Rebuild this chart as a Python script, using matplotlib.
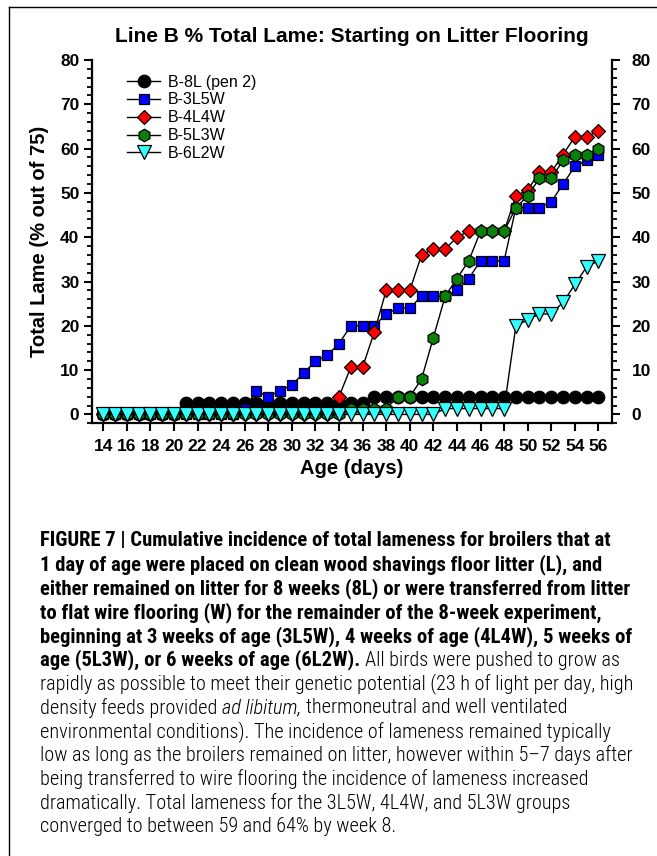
"""Line B total lameness chart with figure caption."""
import matplotlib

matplotlib.use("Agg")
import matplotlib.pyplot as plt
from matplotlib import font_manager
from matplotlib.lines import Line2D
from matplotlib.ticker import MultipleLocator

days = [14, 15, 16, 17, 18, 19, 20, 21, 22, 23, 24, 25, 26, 27, 28, 29, 30, 31,
        32, 33, 34, 35, 36, 37, 38, 39, 40, 41, 42, 43, 44, 45, 46, 47, 48, 49,
        50, 51, 52, 53, 54, 55, 56]

b_8l = [0, 0, 0, 0, 0, 0, 0, 2.67, 2.67, 2.67, 2.67, 2.67, 2.67, 2.67, 2.67,
        2.67, 2.67, 2.67, 2.67, 2.67, 2.67, 2.67, 2.67, 4.0, 4.0, 4.0, 4.0,
        4.0, 4.0, 4.0, 4.0, 4.0, 4.0, 4.0, 4.0, 4.0, 4.0, 4.0, 4.0, 4.0, 4.0,
        4.0, 4.0]
b_3l5w = [0, 0, 0, 0, 0, 0, 0, 0, 0, 0, 0, 0, 1.33, 5.33, 4.0, 5.33, 6.67,
          9.33, 12.0, 13.33, 16.0, 20.0, 20.0, 20.0, 22.67, 24.0, 24.0, 26.67,
          26.67, 26.67, 28.0, 30.67, 34.67, 34.67, 34.67, 46.67, 46.67, 46.67,
          48.0, 52.0, 56.0, 57.33, 58.67]
b_4l4w = [0, 0, 0, 0, 0, 0, 0, 0, 0, 0, 0, 0, 0, 0, 0, 0, 0, 0, 0, 0, 4.0,
          10.67, 10.67, 18.67, 28.0, 28.0, 28.0, 36.0, 37.33, 37.33, 40.0,
          41.33, 41.33, 41.33, 41.33, 49.33, 50.67, 54.67, 54.67, 58.67, 62.67,
          62.67, 64.0]
b_5l3w = [0, 0, 0, 0, 0, 0, 0, 0, 0, 0, 0, 0, 0, 0, 0, 0, 0, 0, 0, 0, 0,
          1.33, 1.33, 1.33, 1.33, 4.0, 4.0, 8.0, 17.33, 26.67, 30.67, 34.67,
          41.33, 41.33, 41.33, 46.67, 49.33, 53.33, 53.33, 57.33, 58.67, 58.67,
          60.0]
b_6l2w = [0, 0, 0, 0, 0, 0, 0, 0, 0, 0, 0, 0, 0, 0, 0, 0, 0, 0, 0, 0, 0, 0,
          0, 0, 0, 0, 0, 0, 0, 1.33, 1.33, 1.33, 1.33, 1.33, 1.33, 20.0, 21.33,
          22.67, 22.67, 25.33, 29.33, 33.33, 34.67]

x_ticks = list(range(14, 57, 2))
y_ticks = [0, 10, 20, 30, 40, 50, 60, 70, 80]

caption = [
    [("FIGURE 7 | Cumulative incidence of total lameness for broilers that at", "bold")],
    [("1 day of age were placed on clean wood shavings floor litter (L), and", "bold")],
    [("either remained on litter for 8 weeks (8L) or were transferred from litter", "bold")],
    [("to flat wire flooring (W) for the remainder of the 8-week experiment,", "bold")],
    [("beginning at 3 weeks of age (3L5W), 4 weeks of age (4L4W), 5 weeks of", "bold")],
    [("age (5L3W), or 6 weeks of age (6L2W).", "bold"),
     ("All birds were pushed to grow as", "normal")],
    [("rapidly as possible to meet their genetic potential (23 h of light per day, high", "normal")],
    [("density feeds provided", "normal"), ("ad libitum,", "italic"),
     ("thermoneutral and well ventilated", "normal")],
    [("environmental conditions). The incidence of lameness remained typically", "normal")],
    [("low as long as the broilers remained on litter, however within 5\u20137 days after", "normal")],
    [("being transferred to wire flooring the incidence of lameness increased", "normal")],
    [("dramatically. Total lameness for the 3L5W, 4L4W, and 5L3W groups", "normal")],
    [("converged to between 59 and 64% by week 8.", "normal")],
]

plt.rcParams["font.family"] = ["Liberation Sans", "DejaVu Sans"]

W, H = 657, 856
fig = plt.figure(figsize=(W / 100, H / 100), dpi=100)
ax = fig.add_axes([92 / W, 1 - 423.3 / H, 520 / W, 363.3 / H])

series = [
    ("B-8L (pen 2)", b_8l, "o", "black", 9.0),
    ("B-3L5W", b_3l5w, "s", "#0000ff", 7.5),
    ("B-4L4W", b_4l4w, "D", "#ff0000", 7.0),
    ("B-5L3W", b_5l3w, "h", "#0a800a", 9.0),
    ("B-6L2W", b_6l2w, "v", "#33ffff", 9.5),
]
for i, (label, vals, marker, color, ms) in enumerate(series):
    ax.plot(days, vals, color="black", lw=1.0, marker=marker, ms=ms,
            mfc=color, mec="black", mew=0.9, label=label, zorder=3 + i)

ax.set_xlim(13.05, 57.15)
ax.set_ylim(-2, 80)
ax.set_xticks(x_ticks)
ax.set_yticks(y_ticks)
ax.yaxis.set_minor_locator(MultipleLocator(2))
for side in ("top", "right"):
    ax.spines[side].set_visible(False)
for side in ("left", "bottom"):
    ax.spines[side].set_linewidth(1.6)
ax.tick_params(axis="both", which="major", direction="out", length=6,
               width=1.5, labelsize=12.5, pad=3)
ax.tick_params(axis="y", which="minor", direction="out", length=3.5, width=1.3)
ax.tick_params(axis="x", pad=5)
for lab in ax.get_xticklabels() + ax.get_yticklabels():
    lab.set_fontweight("bold")

sec = ax.secondary_yaxis("right")
sec.set_yticks(y_ticks)
sec.yaxis.set_minor_locator(MultipleLocator(2))
sec.spines["right"].set_linewidth(1.6)
sec.tick_params(axis="y", which="major", direction="out", length=6, width=1.5,
                labelsize=12.5, pad=8)
sec.tick_params(axis="y", which="minor", direction="out", length=3.5, width=1.3)
for lab in sec.get_yticklabels():
    lab.set_fontweight("bold")

ax.set_title("Line B % Total Lame: Starting on Litter Flooring",
             fontsize=15, fontweight="bold", pad=13)
ax.set_xlabel("Age (days)", fontsize=14.5, fontweight="bold", labelpad=4)
ax.set_ylabel("Total Lame (% out of 75)", fontsize=14.5, fontweight="bold",
              labelpad=8)

ax.legend(loc="upper left", bbox_to_anchor=(0.067, 0.96), frameon=False,
          fontsize=11.5, borderpad=0, borderaxespad=0, handlelength=2.1,
          handletextpad=0.45, labelspacing=0.18)

# partial frame around the figure panel
fig.add_artist(Line2D([9 / W, 9 / W], [0, 1 - 7 / H], color="black", lw=1.0))
fig.add_artist(Line2D([9 / W, 1], [1 - 7 / H, 1 - 7 / H], color="black", lw=1.0))


def pick_caption_font():
    try:
        font_manager.findfont("Liberation Sans Narrow", fallback_to_default=False)
        return ["Liberation Sans Narrow", "DejaVu Sans"], "normal"
    except ValueError:
        pass
    names = {f.name for f in font_manager.fontManager.ttflist}
    if "Roboto Condensed" in names:
        return ["Roboto Condensed", "DejaVu Sans"], "normal"
    for f in font_manager.fontManager.ttflist:
        if f.name == "DejaVu Sans" and "Condensed" in f.fname:
            return ["DejaVu Sans"], "condensed"
    return ["Liberation Sans", "DejaVu Sans"], "normal"


cap_family, cap_stretch = pick_caption_font()
renderer = fig.canvas.get_renderer()


def text_width(s, size, weight, style):
    t = fig.text(0, 0, s, fontsize=size, fontweight=weight, fontstyle=style,
                 family=cap_family, fontstretch=cap_stretch)
    w = t.get_window_extent(renderer).width
    t.remove()
    return w


def seg_props(kind):
    if kind == "bold":
        return "bold", "normal"
    if kind == "italic":
        return "light", "italic"
    return "light", "normal"


# widest bold line and widest plain line both end near x = 632
base = 10.0
bold_lines = [p[0][0] for p in caption[:5]]
plain_lines = [p[0][0] for p in caption[6:] if len(p) == 1]
wb = max(text_width(s, base, "bold", "normal") for s in bold_lines)
wp = max(text_width(s, base, "light", "normal") for s in plain_lines)
size_bold = base * 592.0 / wb
size_plain = base * 593.0 / wp

x0, y0, step = 40.0, 541.0, 23.8
for row, parts in enumerate(caption):
    x = x0
    y = y0 + row * step
    for j, (s, kind) in enumerate(parts):
        weight, style = seg_props(kind)
        size = size_bold if kind == "bold" else size_plain
        if j > 0:
            x += (text_width("x x", size, weight, style)
                  - text_width("xx", size, weight, style))
        fig.text(x / W, 1 - y / H, s, fontsize=size, fontweight=weight,
                 fontstyle=style, family=cap_family, fontstretch=cap_stretch,
                 va="center", ha="left")
        x += text_width(s, size, weight, style)

fig.savefig("out.png", dpi=100)
